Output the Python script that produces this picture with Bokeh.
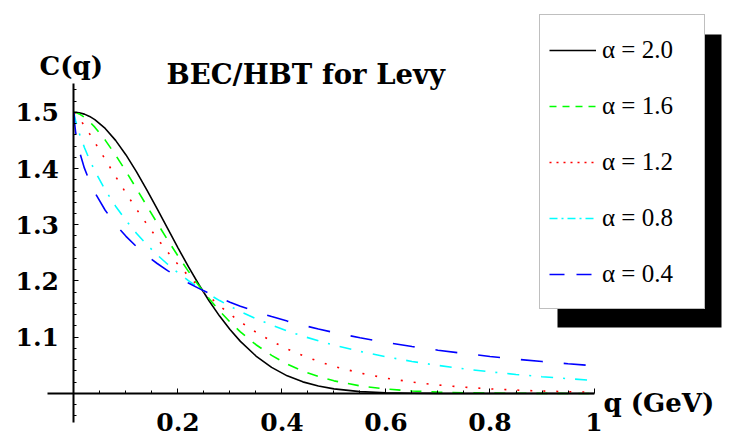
from bokeh.plotting import figure
from bokeh.models import (Range1d, LinearAxis, FixedTicker, Legend, LegendItem,
                          Label, BoxAnnotation)
from bokeh.embed import file_html
from bokeh.resources import INLINE

# ---- data ----
q = [0, 0.001, 0.003, 0.006, 0.01, 0.02, 0.03, 0.04, 0.06, 0.08,
     0.10, 0.12, 0.14, 0.16, 0.18, 0.20, 0.22, 0.24, 0.26, 0.28, 0.30, 0.32,
     0.35, 0.38, 0.41, 0.44, 0.47, 0.50,
     0.55, 0.60, 0.65, 0.70, 0.75, 0.80, 0.85, 0.90, 0.95, 1.00]

c_alpha_20 = [1.5, 1.5, 1.4999, 1.4997, 1.4992, 1.4967, 1.4926, 1.4870, 1.4712, 1.4500,
              1.4241, 1.3945, 1.3621, 1.3281, 1.2934, 1.2589, 1.2254, 1.1938, 1.1644, 1.1376, 1.1137, 1.0927,
              1.0666, 1.0464, 1.0314, 1.0207, 1.0132, 1.0082,
              1.0034, 1.0013, 1.0005, 1.0002, 1.0, 1.0, 1.0, 1.0, 1.0, 1.0]
c_alpha_16 = [1.5, 1.4999, 1.4996, 1.4987, 1.4970, 1.4911, 1.4831, 1.4735, 1.4505, 1.4239,
              1.3949, 1.3645, 1.3337, 1.3030, 1.2731, 1.2444, 1.2172, 1.1918, 1.1683, 1.1467, 1.1271, 1.1096,
              1.0867, 1.0678, 1.0523, 1.0399, 1.0302, 1.0225,
              1.0135, 1.0079, 1.0045, 1.0025, 1.0013, 1.0007, 1.0004, 1.0002, 1.0001, 1.0]
c_alpha_12 = [1.5, 1.4993, 1.4975, 1.4942, 1.4894, 1.4760, 1.4616, 1.4467, 1.4162, 1.3859,
              1.3563, 1.3280, 1.3011, 1.2757, 1.2519, 1.2296, 1.2090, 1.1898, 1.1722, 1.1559, 1.1410, 1.1273,
              1.1090, 1.0931, 1.0793, 1.0674, 1.0571, 1.0483,
              1.0364, 1.0273, 1.0204, 1.0151, 1.0112, 1.0082, 1.0060, 1.0044, 1.0032, 1.0023]
c_alpha_08 = [1.5, 1.4939, 1.4855, 1.4751, 1.4629, 1.4373, 1.4154, 1.3959, 1.3620, 1.3330,
              1.3076, 1.2850, 1.2647, 1.2464, 1.2298, 1.2146, 1.2007, 1.1879, 1.1761, 1.1652, 1.1552, 1.1458,
              1.1331, 1.1216, 1.1113, 1.1020, 1.0936, 1.0859,
              1.0748, 1.0652, 1.0570, 1.0499, 1.0438, 1.0385, 1.0339, 1.0299, 1.0264, 1.0233]
c_alpha_04 = [1.5, 1.4820, 1.4657, 1.4490, 1.4320, 1.4006, 1.3769, 1.3574, 1.3258, 1.3005,
              1.2794, 1.2612, 1.2453, 1.2311, 1.2184, 1.2070, 1.1965, 1.1869, 1.1781, 1.1699, 1.1623, 1.1553,
              1.1455, 1.1367, 1.1287, 1.1214, 1.1146, 1.1084,
              1.0991, 1.0909, 1.0835, 1.0770, 1.0712, 1.0659, 1.0611, 1.0568, 1.0529, 1.0493]

legend_labels = ["α = 2.0", "α = 1.6", "α = 1.2", "α = 0.8", "α = 0.4"]

x_ticks = [0.2, 0.4, 0.6, 0.8, 1.0]
x_tick_labels = ["0.2", "0.4", "0.6", "0.8", "1"]
x_minor = [0.05, 0.1, 0.15, 0.25, 0.3, 0.35, 0.45, 0.5, 0.55, 0.65, 0.7, 0.75, 0.85, 0.9, 0.95]
y_ticks = [1.1, 1.2, 1.3, 1.4, 1.5]
y_tick_labels = ["1.1", "1.2", "1.3", "1.4", "1.5"]
y_minor = [0.96, 0.98, 1.02, 1.04, 1.06, 1.08, 1.12, 1.14, 1.16, 1.18, 1.22, 1.24, 1.26, 1.28,
           1.32, 1.34, 1.36, 1.38, 1.42, 1.44, 1.46, 1.48, 1.52, 1.54]

# ---- figure ----
p = figure(width=730, height=440,
           x_range=Range1d(-0.141346, 1.2625), y_range=Range1d(0.916444, 1.698667),
           x_axis_location=None, y_axis_location=None,
           toolbar_location=None, output_backend="svg", min_border=0,
           outline_line_color=None, background_fill_color="white",
           border_fill_color="white")
p.grid.grid_line_color = None

axis_style = dict(axis_line_width=2, axis_line_color="black",
                  major_tick_in=5, major_tick_out=0, minor_tick_in=3, minor_tick_out=0,
                  major_tick_line_color="black", minor_tick_line_color="black",
                  major_tick_line_width=1, minor_tick_line_width=1,
                  major_label_text_font="DejaVu Serif", major_label_text_font_style="bold",
                  major_label_text_font_size="25px", major_label_text_color="black")

yax = LinearAxis(fixed_location=0, bounds=(0.9484, 1.5516),
                 ticker=FixedTicker(ticks=y_ticks, minor_ticks=y_minor),
                 major_label_overrides=dict(zip(y_ticks, y_tick_labels)),
                 major_label_standoff=15, **axis_style)
xax = LinearAxis(fixed_location=1.0, bounds=(-0.0515, 1.0),
                 ticker=FixedTicker(ticks=x_ticks, minor_ticks=x_minor),
                 major_label_overrides=dict(zip(x_ticks, x_tick_labels)),
                 major_label_standoff=20, **axis_style)
p.add_layout(yax, "left")
p.add_layout(xax, "below")

series = [c_alpha_20, c_alpha_16, c_alpha_12, c_alpha_08, c_alpha_04]
colors = ["black", "#00ff00", "#ff0000", "#00ffff", "#0000ff"]
plot_dash = ["solid", "11 10", "2 11", "12 10 2 10", "22 21"]
legend_dash = ["solid", "7 6", "2 5", "8 4 2 4", "15 12"]

for ys, col, d in zip(series, colors, plot_dash):
    p.line(q, ys, line_color=col, line_width=1.6, line_dash=d)

# legend swatches: single-point lines (draw nothing in the plot) carrying the legend dash style
items = []
for lab, ys, col, d in zip(legend_labels, series, colors, legend_dash):
    r = p.line(x=q[:1], y=ys[:1], line_color=col, line_width=1.6, line_dash=d)
    items.append(LegendItem(label=lab, renderers=[r]))

# legend shadow (screen units measured from the bottom-left corner)
shadow = BoxAnnotation(left=557, right=721, top=406, bottom=113,
                       left_units="screen", right_units="screen",
                       top_units="screen", bottom_units="screen",
                       fill_color="black", fill_alpha=1.0, line_color=None)
p.add_layout(shadow)

legend = Legend(items=items, location=(539, 131), orientation="vertical",
                glyph_width=47, glyph_height=20, label_height=51, label_width=93,
                spacing=5, padding=9, margin=0, label_standoff=6,
                label_text_font="Liberation Serif", label_text_font_size="25px",
                label_text_color="black",
                border_line_color="#808080", border_line_width=1,
                background_fill_color="white", background_fill_alpha=1.0)
p.add_layout(legend)

text_style = dict(x_units="screen", y_units="screen", text_font="DejaVu Serif",
                  text_font_style="bold", text_color="black",
                  text_baseline="alphabetic", text_align="left")
p.add_layout(Label(x=39, y=375, text="C(q)", text_font_size="26px", **text_style))
p.add_layout(Label(x=166, y=367, text="BEC/HBT for Levy", text_font_size="27.5px", **text_style))
p.add_layout(Label(x=603, y=38, text="q (GeV)", text_font_size="26px", **text_style))

open("out.html", "w").write(file_html(p, INLINE))
